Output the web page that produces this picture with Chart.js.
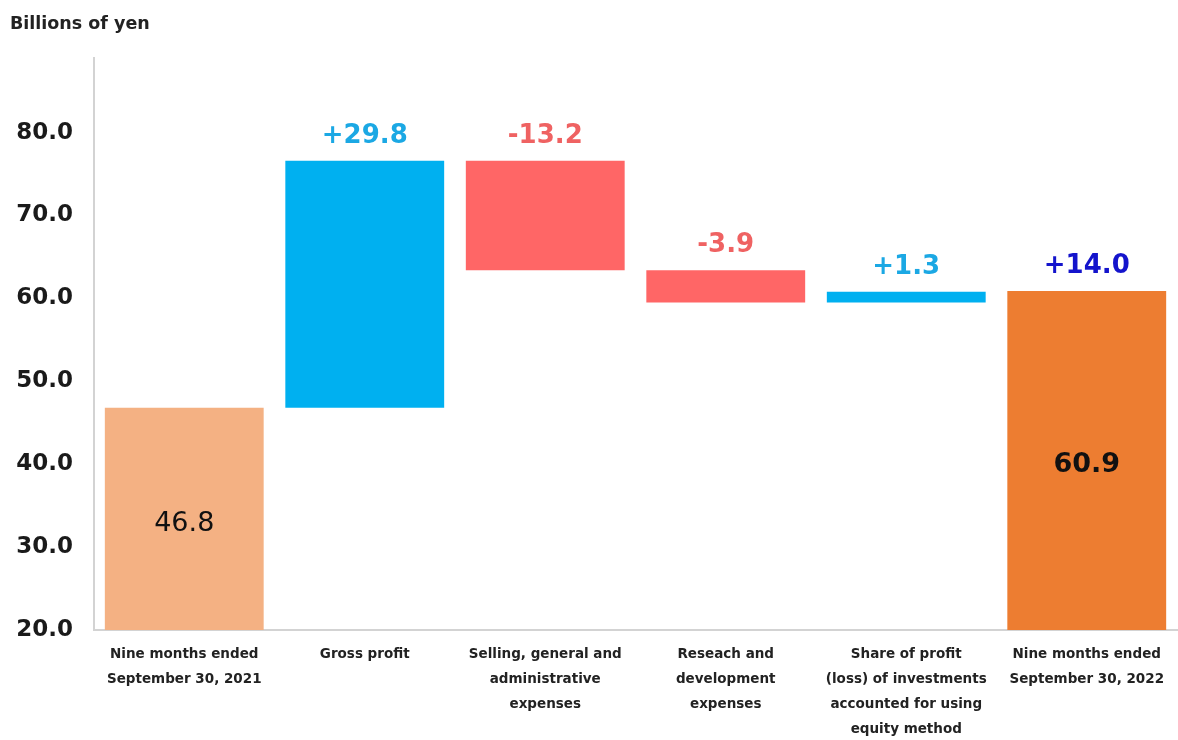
<!DOCTYPE html>
<html>
<head>
<meta charset="utf-8">
<script src="https://cdn.jsdelivr.net/npm/chart.js@4.4.1/dist/chart.umd.min.js"></script>
<style>
  html, body { margin: 0; padding: 0; background: #fff; }
  #wrap { position: relative; width: 1178px; height: 740px; }
</style>
</head>
<body>
<div id="wrap"><canvas id="waterfall"></canvas></div>
<script>
// values (billions of yen)
const categories = [
    ['Nine months ended', 'September 30, 2021'],
    ['Gross profit'],
    ['Selling, general and', 'administrative', 'expenses'],
    ['Reseach and', 'development', 'expenses'],
    ['Share of profit', '(loss) of investments', 'accounted for using', 'equity method'],
    ['Nine months ended', 'September 30, 2022']
];
const startValue = 46.8;
const changes = [29.8, -13.2, -3.9, 1.3];
const endValue = 60.9;
const totalChange = 14.0;
const yTicks = [20, 30, 40, 50, 60, 70, 80];

const barColors = ['#F4B183', '#00B0F0', '#FF6666', '#FF6666', '#00B0F0', '#ED7D31'];
const labelColors = ['#000000', '#1BA8E4', '#EF6262', '#EF6262', '#1BA8E4', '#1414CC'];

// floating ranges for the waterfall
const ranges = [[0, startValue]];
let running = startValue;
changes.forEach((c) => {
    ranges.push([running, running + c]);
    running += c;
});
ranges.push([0, endValue]);

const fmtChange = (v) => (v > 0 ? '+' : '') + v.toFixed(1);
const topLabels = [null, ...changes.map(fmtChange), fmtChange(totalChange)];
const innerLabels = [startValue.toFixed(1), null, null, null, null, endValue.toFixed(1)];
const innerWeights = ['normal', null, null, null, null, 'bold'];

const FONT = "'DejaVu Sans', Verdana, sans-serif";

const valueLabels = {
    id: 'valueLabels',
    afterDatasetsDraw(chart) {
        const ctx = chart.ctx;
        const area = chart.chartArea;
        const meta = chart.getDatasetMeta(0);
        ctx.save();
        ctx.textAlign = 'center';
        meta.data.forEach((bar, i) => {
            const top = Math.min(bar.y, bar.base);
            const bottom = Math.min(Math.max(bar.y, bar.base), area.bottom);
            if (topLabels[i]) {
                ctx.font = 'bold 26px ' + FONT;
                ctx.fillStyle = labelColors[i];
                ctx.textBaseline = 'middle';
                ctx.fillText(topLabels[i], bar.x, top - 25);
            }
            if (innerLabels[i]) {
                ctx.font = innerWeights[i] + ' 27px ' + FONT;
                ctx.fillStyle = '#111111';
                ctx.textBaseline = 'middle';
                ctx.fillText(innerLabels[i], bar.x, (top + bottom) / 2 + 5);
            }
        });
        ctx.restore();
    }
};

const unitTitle = {
    id: 'unitTitle',
    afterDraw(chart) {
        const ctx = chart.ctx;
        ctx.save();
        ctx.font = 'bold 17.5px ' + FONT;
        ctx.fillStyle = '#222222';
        ctx.textAlign = 'left';
        ctx.textBaseline = 'middle';
        ctx.fillText('Billions of yen', 10, 24);
        ctx.restore();
    }
};

new Chart(document.getElementById('waterfall').getContext('2d'), {
    type: 'bar',
    data: {
        labels: categories,
        datasets: [{
            data: ranges,
            backgroundColor: barColors,
            borderWidth: 0,
            borderSkipped: false,
            barPercentage: 0.88,
            categoryPercentage: 1.0
        }]
    },
    options: {
        responsive: true,
        maintainAspectRatio: false,
        animation: false,
        layout: { padding: { top: 58, right: 1, left: 0, bottom: 0 } },
        plugins: {
            legend: { display: false },
            tooltip: { enabled: false }
        },
        scales: {
            x: {
                grid: { display: false, drawTicks: false },
                border: { display: true, color: '#D3D3D3', width: 2 },
                ticks: {
                    color: '#222222',
                    maxRotation: 0,
                    autoSkip: false,
                    padding: 12,
                    font: { family: FONT, size: 13.5, weight: 'bold', lineHeight: 1.85 }
                },
                afterFit: (scale) => { scale.height = 110; }
            },
            y: {
                min: 20,
                max: 89,
                grid: { display: false, drawTicks: false },
                border: { display: true, color: '#D3D3D3', width: 2 },
                afterBuildTicks: (scale) => {
                    scale.ticks = yTicks.map((v) => ({ value: v }));
                },
                ticks: {
                    color: '#1A1A1A',
                    padding: 21,
                    font: { family: FONT, size: 23, weight: 'bold' },
                    callback: (v) => Number(v).toFixed(1)
                },
                afterFit: (scale) => { scale.width = 94; }
            }
        }
    },
    plugins: [valueLabels, unitTitle]
});
</script>
</body>
</html>
